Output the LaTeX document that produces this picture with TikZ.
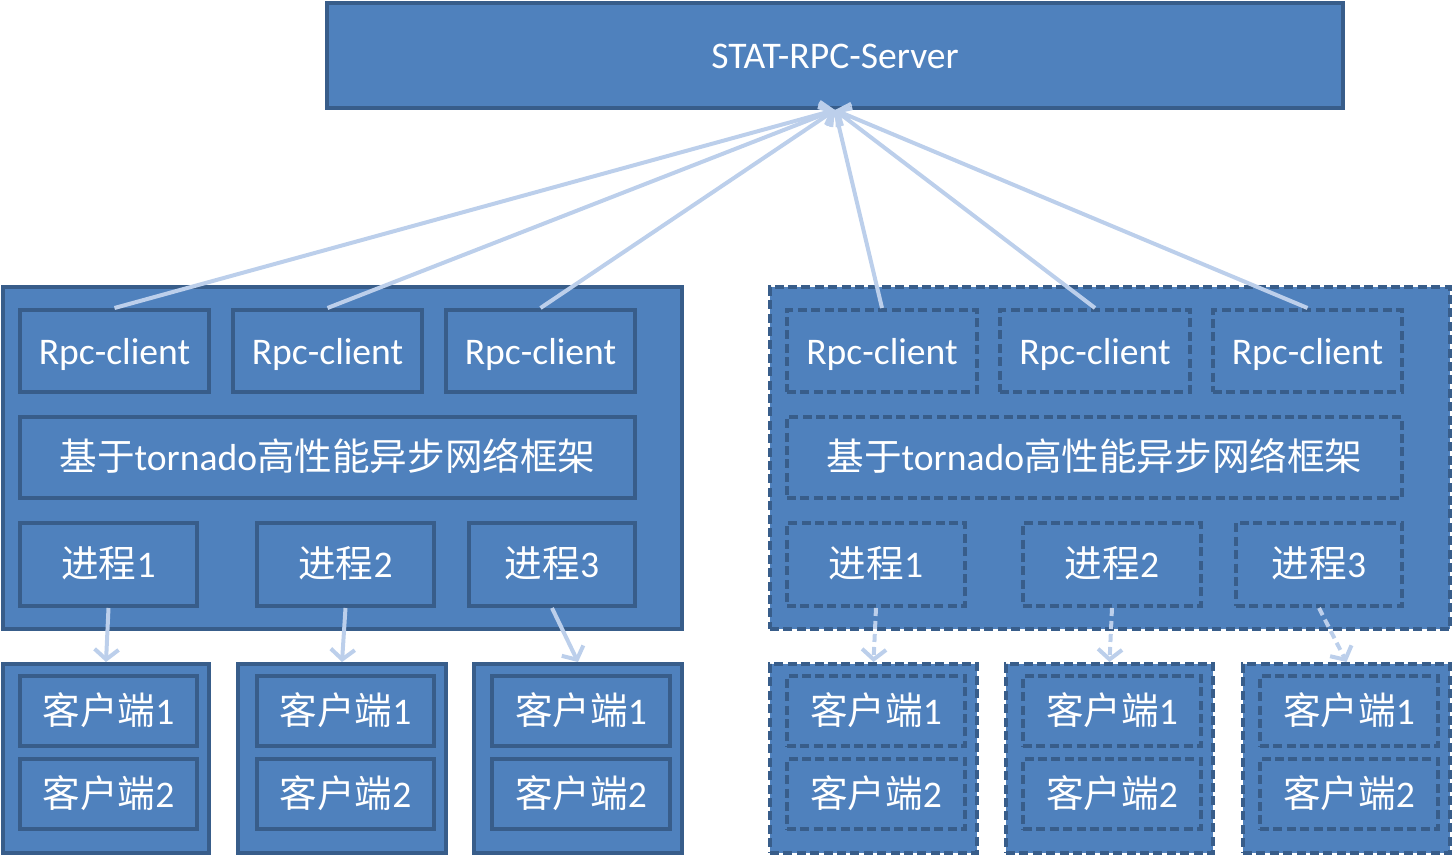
\documentclass[tikz,border=0pt]{standalone}
\usepackage{fontspec}
\setmainfont{Carlito}
\newfontfamily\cjk{Noto Sans CJK SC}
\usetikzlibrary{arrows.meta}
\definecolor{boxfill}{HTML}{4F81BD}
\definecolor{boxline}{HTML}{385D8A}
\definecolor{arrcol}{HTML}{BCCFEB}
\tikzset{
  box/.style={draw=boxline, fill=boxfill, line width=2pt, inner sep=0pt, text=white,
    font=\fontsize{18.8}{22}\selectfont, text depth=0pt, text height=13pt},
  dbox/.style={box, dash pattern=on 4.5pt off 2.2pt},
  conn/.style={draw=arrcol, line width=2pt, -{Straight Barb[length=5pt,width=12pt,line width=2pt]}},
  dconn/.style={conn, dash pattern=on 4pt off 2.5pt},
}
\newcommand\mybox[7]{%
  \node[#6, minimum width={0.5pt*(#4-#2)}, minimum height={0.5pt*(#5-#3)}] (#1) at ({(#2+#4)/2},{(#3+#5)/2}) {#7};}
\begin{document}
\begin{tikzpicture}[x=0.5pt,y=-0.5pt]
\useasboundingbox (0,0) rectangle (1453,857);
% server
\mybox{sv}{327}{3}{1343}{108}{box}{STAT-RPC-Server}
\coordinate (svb) at (835,110);
% left big box
\mybox{L}{3}{287}{682}{629}{box}{}
\mybox{Lr1}{20}{310}{209}{392}{box}{Rpc-client}
\mybox{Lr2}{233}{310}{422}{392}{box}{Rpc-client}
\mybox{Lr3}{446}{310}{635}{392}{box}{Rpc-client}
\mybox{Lt}{20}{417}{635}{498}{box}{{\cjk 基于}tornado{\cjk 高性能异步网络框架}}
\mybox{Lp1}{20}{523}{197}{606}{box}{{\cjk 进程}1}
\mybox{Lp2}{257}{523}{434}{606}{box}{{\cjk 进程}2}
\mybox{Lp3}{469}{523}{635}{606}{box}{{\cjk 进程}3}
% right big box
\mybox{R}{770}{287}{1450}{629}{dbox}{}
\mybox{Rr1}{787}{310}{977}{392}{dbox}{Rpc-client}
\mybox{Rr2}{1000}{310}{1190}{392}{dbox}{Rpc-client}
\mybox{Rr3}{1213}{310}{1402}{392}{dbox}{Rpc-client}
\mybox{Rt}{787}{417}{1402}{498}{dbox}{{\cjk 基于}tornado{\cjk 高性能异步网络框架}}
\mybox{Rp1}{787}{523}{965}{606}{dbox}{{\cjk 进程}1}
\mybox{Rp2}{1023}{523}{1201}{606}{dbox}{{\cjk 进程}2}
\mybox{Rp3}{1236}{523}{1402}{606}{dbox}{{\cjk 进程}3}
% left client groups
\mybox{Lg1}{3}{664}{209}{853}{box}{}
\mybox{Lg1a}{20}{676}{197}{746}{box}{{\cjk 客户端}1}
\mybox{Lg1b}{20}{759}{197}{829}{box}{{\cjk 客户端}2}
\mybox{Lg2}{238}{664}{446}{853}{box}{}
\mybox{Lg2a}{257}{676}{434}{746}{box}{{\cjk 客户端}1}
\mybox{Lg2b}{257}{759}{434}{829}{box}{{\cjk 客户端}2}
\mybox{Lg3}{474}{664}{682}{853}{box}{}
\mybox{Lg3a}{492}{676}{670}{746}{box}{{\cjk 客户端}1}
\mybox{Lg3b}{492}{759}{670}{829}{box}{{\cjk 客户端}2}
% right client groups
\mybox{Rg1}{770}{664}{977}{853}{dbox}{}
\mybox{Rg1a}{787}{676}{965}{746}{dbox}{{\cjk 客户端}1}
\mybox{Rg1b}{787}{759}{965}{829}{dbox}{{\cjk 客户端}2}
\mybox{Rg2}{1006}{664}{1213}{853}{dbox}{}
\mybox{Rg2a}{1023}{676}{1201}{746}{dbox}{{\cjk 客户端}1}
\mybox{Rg2b}{1023}{759}{1201}{829}{dbox}{{\cjk 客户端}2}
\mybox{Rg3}{1243}{664}{1450}{853}{dbox}{}
\mybox{Rg3a}{1260}{676}{1438}{746}{dbox}{{\cjk 客户端}1}
\mybox{Rg3b}{1260}{759}{1438}{829}{dbox}{{\cjk 客户端}2}
% connectors to server
\foreach \n in {Lr1,Lr2,Lr3,Rr1,Rr2,Rr3}
  \draw[conn] (\n.north) -- (svb);
% process to client groups
\draw[conn] (Lp1.south) -- (Lg1.north);
\draw[conn] (Lp2.south) -- (Lg2.north);
\draw[conn] (Lp3.south) -- (Lg3.north);
\draw[dconn] (Rp1.south) -- (Rg1.north);
\draw[dconn] (Rp2.south) -- (Rg2.north);
\draw[dconn] (Rp3.south) -- (Rg3.north);
\end{tikzpicture}
\end{document}
